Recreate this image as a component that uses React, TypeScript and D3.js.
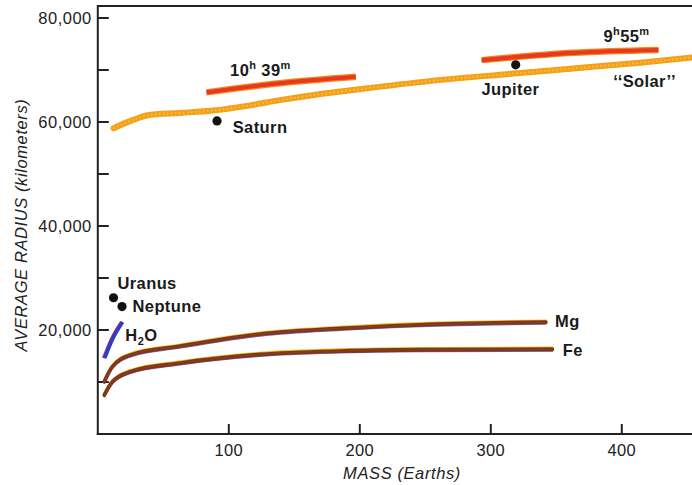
import * as d3 from 'd3';

// mass (Earths), average radius (km)
const solarCurve: [number, number][] = [
  [12, 58800], [27, 60400], [40, 61400], [63, 61750], [88, 62200], [114, 63100],
  [139, 64200], [165, 65200], [190, 66000], [216, 66800], [262, 68100], [312, 69200],
  [363, 70300], [414, 71400], [454, 72400],
];
const saturnRotation: [number, number][] = [[83, 65700], [139, 67450], [197, 68700]];
const jupiterRotation: [number, number][] = [[293, 71900], [363, 73300], [428, 73850]];
const mgCurve: [number, number][] = [
  [5, 10100], [11, 12900], [25, 15200], [63, 16900], [124, 19200], [185, 20300],
  [246, 21000], [342, 21500],
];
const feCurve: [number, number][] = [
  [5, 7500], [11, 10000], [25, 12000], [63, 13650], [124, 15300], [185, 15950],
  [246, 16200], [347, 16300],
];
const waterCurve: [number, number][] = [[5.3, 14600], [11, 18100], [19, 21550]];

const planets = [
  { name: 'Saturn', mass: 91, radius: 60200 },
  { name: 'Jupiter', mass: 319, radius: 71000 },
  { name: 'Uranus', mass: 12, radius: 26200 },
  { name: 'Neptune', mass: 18.5, radius: 24500 },
];

const xTicks = [100, 200, 300, 400];
const yTicks = [10000, 20000, 30000, 40000, 50000, 60000, 70000, 80000];
const yLabelTicks = [20000, 40000, 60000, 80000];

// text annotations, anchored in data space
const labels = [
  { text: 'Saturn', mass: 103, radius: 57830, anchor: 'start' },
  { text: 'Jupiter', mass: 315, radius: 65200, anchor: 'middle' },
  { text: '\u2018\u2018Solar\u2019\u2019', mass: 393.5, radius: 66800, anchor: 'start' },
  { text: 'Uranus', mass: 15, radius: 27830, anchor: 'start' },
  { text: 'Neptune', mass: 26.5, radius: 23520, anchor: 'start' },
  { text: 'Mg', mass: 349, radius: 20520, anchor: 'start' },
  { text: 'Fe', mass: 355, radius: 15000, anchor: 'start' },
];

const FONT = "'Liberation Sans', Arial, Helvetica, sans-serif";

export default function App() {
  const W = 692, H = 485;
  const x = d3.scaleLinear().domain([0, 400]).range([97.8, 621.8]);
  const y = d3.scaleLinear().domain([0, 80000]).range([434, 18]);

  const line = d3.line<[number, number]>()
    .x(d => x(d[0]))
    .y(d => y(d[1]))
    .curve(d3.curveMonotoneX);

  const x0 = x(0), y0 = y(0);

  // printed curves with slight colour misregistration
  const misregistered = (data: [number, number][], key: string) => (
    <g key={key}>
      <path d={line(data) || ''} transform="translate(0,-1.5)" fill="none" stroke="#f0c028" strokeWidth={2.4} strokeLinecap="round" />
      <path d={line(data) || ''} transform="translate(0,1.5)" fill="none" stroke="#6c66b8" strokeWidth={2} strokeLinecap="round" />
      <path d={line(data) || ''} fill="none" stroke="#7e3518" strokeWidth={3.8} strokeLinecap="round" />
      <path d={line(data) || ''} fill="none" stroke="#a8461c" strokeWidth={1.2} strokeDasharray="1 2" />
    </g>
  );

  const rotation = (data: [number, number][], key: string) => (
    <g key={key}>
      <path d={line(data) || ''} fill="none" stroke="#f5861f" strokeWidth={6.5} />
      <path d={line(data) || ''} fill="none" stroke="#e8391d" strokeWidth={4.2} />
    </g>
  );

  return (
    <svg width={W} height={H} style={{ position: 'absolute', left: 0, top: 0, background: '#fff' }} fontFamily={FONT}>
      {/* frame */}
      <line x1={x0} x2={W} y1={6} y2={6} stroke="#222" strokeWidth={2} />
      <line x1={x0} x2={x0} y1={5} y2={y0 + 1} stroke="#222" strokeWidth={2} />
      <line x1={x0 - 1} x2={W} y1={y0} y2={y0} stroke="#222" strokeWidth={2} />

      {/* y ticks */}
      {yTicks.map(t => (
        <line key={t} x1={x0} x2={x0 + 11} y1={y(t)} y2={y(t)} stroke="#222" strokeWidth={2} />
      ))}
      {yLabelTicks.map(t => (
        <text key={t} x={x0 - 6} y={y(t) + 6} textAnchor="end" fontSize={16.5} letterSpacing={0.5} fill="#222">
          {d3.format(',')(t)}
        </text>
      ))}

      {/* x ticks */}
      {xTicks.map(t => (
        <g key={t}>
          <line x1={x(t)} x2={x(t)} y1={y0} y2={y0 - 10} stroke="#222" strokeWidth={2} />
          <text x={x(t)} y={456} textAnchor="middle" fontSize={16.5} letterSpacing={0.3} fill="#222">{t}</text>
        </g>
      ))}

      {/* axis titles */}
      <text x={402} y={479} textAnchor="middle" fontSize={16.5} fontStyle="italic" letterSpacing={0.6} fill="#222">
        MASS (Earths)
      </text>
      <text transform="translate(27,225) rotate(-90)" textAnchor="middle" fontSize={16.5} fontStyle="italic" letterSpacing={0.6} fill="#222">
        AVERAGE RADIUS (kilometers)
      </text>

      {/* solar composition curve */}
      <path d={line(solarCurve) || ''} fill="none" stroke="#f3a11d" strokeWidth={6} strokeLinecap="round" />
      <path d={line(solarCurve) || ''} fill="none" stroke="#f9c232" strokeWidth={2} strokeDasharray="1.5 2.5" />

      {rotation(saturnRotation, 'sat')}
      {rotation(jupiterRotation, 'jup')}

      {misregistered(mgCurve, 'mg')}
      {misregistered(feCurve, 'fe')}

      {/* water */}
      <path d={line(waterCurve) || ''} transform="translate(-1.3,0)" fill="none" stroke="#b0307a" strokeWidth={3} />
      <path d={line(waterCurve) || ''} fill="none" stroke="#2b3fc0" strokeWidth={3.6} />

      {planets.map(p => (
        <circle key={p.name} cx={x(p.mass)} cy={y(p.radius)} r={4.6} fill="#111" />
      ))}

      <g fontWeight="bold" fontSize={16.5} letterSpacing={0.4} fill="#1a1a1a">
        {labels.map(l => (
          <text key={l.text} x={x(l.mass)} y={y(l.radius)} textAnchor={l.anchor as any}>{l.text}</text>
        ))}
        <text x={x(21)} y={y(17940)}>
          H<tspan fontSize={11} dy={4}>2</tspan><tspan dy={-4}>O</tspan>
        </text>
        <text x={x(101)} y={y(68900)}>
          10<tspan fontSize={11} dy={-7}>h</tspan><tspan dy={7}> 39</tspan><tspan fontSize={11} dy={-7}>m</tspan>
        </text>
        <text x={x(386)} y={y(75440)}>
          9<tspan fontSize={11} dy={-7}>h</tspan><tspan dy={7}>55</tspan><tspan fontSize={11} dy={-7}>m</tspan>
        </text>
      </g>
    </svg>
  );
}
